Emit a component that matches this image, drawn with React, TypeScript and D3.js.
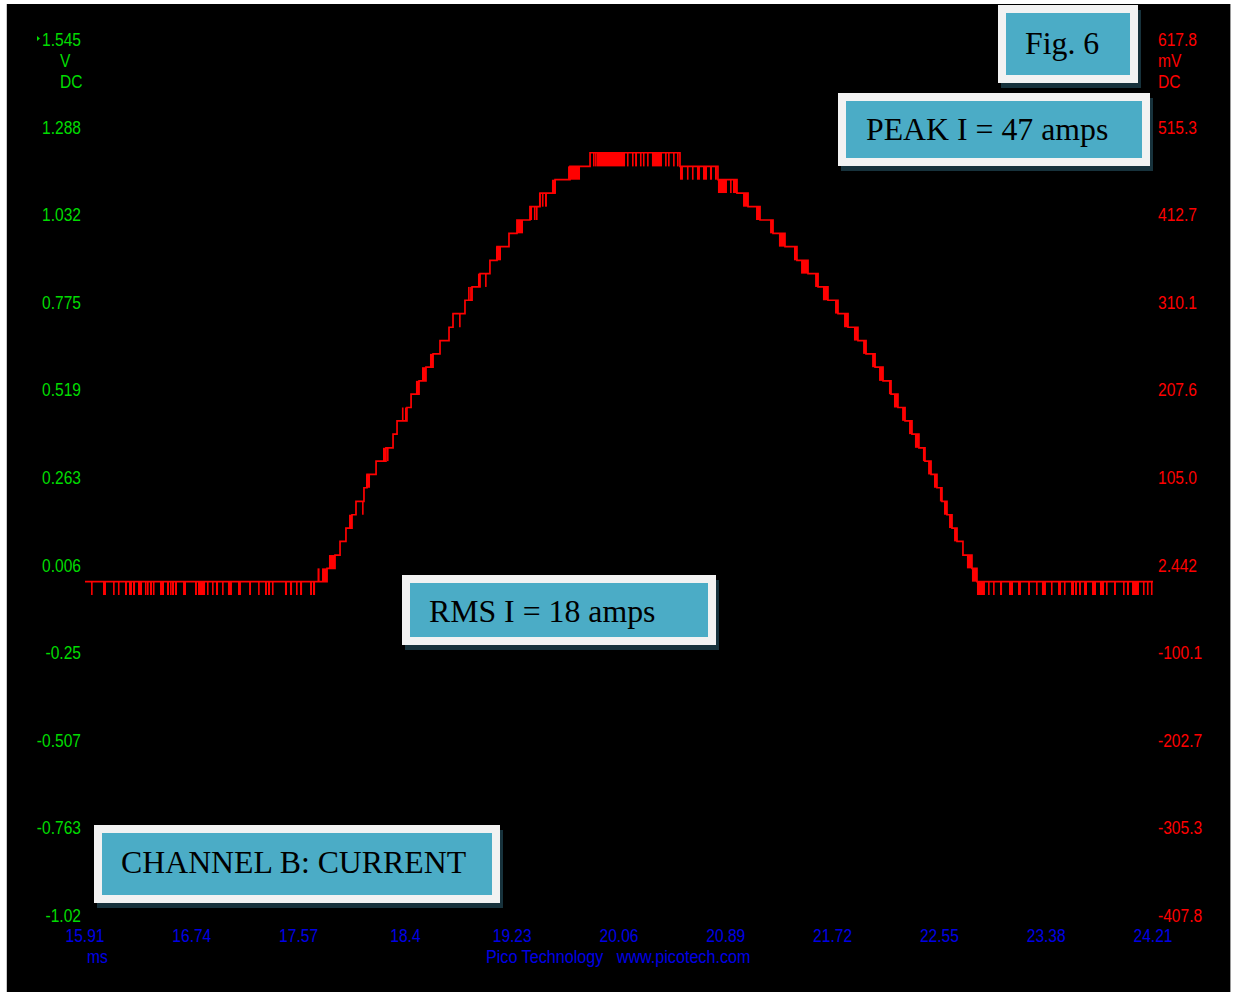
import React from "react";
import * as d3 from "d3";

// ---------- axis labels ----------
const leftTickLabels = ["1.545", "1.288", "1.032", "0.775", "0.519", "0.263", "0.006", "-0.25", "-0.507", "-0.763", "-1.02"];
const rightTickLabels = ["617.8", "515.3", "412.7", "310.1", "207.6", "105.0", "2.442", "-100.1", "-202.7", "-305.3", "-407.8"];
const timeTickLabels = ["15.91", "16.74", "17.57", "18.4", "19.23", "20.06", "20.89", "21.72", "22.55", "23.38", "24.21"];

const timeDomain: [number, number] = [15.91, 24.21]; // ms
const voltDomain: [number, number] = [1.545, -1.02]; // V (left scale)
const mvDomain: [number, number] = [617.8, -407.8]; // mV (right scale)

// ---------- waveform (ms, V) : quantised staircase, value holds until next point ----------
const baselineV = -0.044;
const dipV = -0.083;

const riseSteps: [number, number][] = [
  [15.91, -0.044],
  [17.791, -0.005], [17.853, 0.034], [17.892, 0.074], [17.938, 0.113], [17.985, 0.152],
  [18.016, 0.191], [18.078, 0.231], [18.102, 0.27], [18.172, 0.309], [18.249, 0.348],
  [18.304, 0.388], [18.335, 0.427], [18.412, 0.466], [18.444, 0.505], [18.506, 0.544],
  [18.56, 0.584], [18.615, 0.623], [18.669, 0.662], [18.739, 0.701], [18.77, 0.741],
  [18.863, 0.78], [18.918, 0.819], [18.98, 0.858], [19.057, 0.897], [19.112, 0.937],
  [19.205, 0.976], [19.267, 1.015], [19.368, 1.054], [19.446, 1.094], [19.563, 1.133],
  [19.679, 1.172], [19.835, 1.212],
];

const fallSteps: [number, number][] = [
  [20.534, 1.172], [20.829, 1.133], [20.977, 1.094], [21.063, 1.054], [21.156, 1.015],
  [21.257, 0.976], [21.35, 0.937], [21.443, 0.897], [21.529, 0.858], [21.607, 0.819],
  [21.684, 0.78], [21.762, 0.741], [21.84, 0.701], [21.917, 0.662], [21.98, 0.623],
  [22.05, 0.584], [22.112, 0.544], [22.174, 0.505], [22.228, 0.466], [22.283, 0.427],
  [22.337, 0.388], [22.391, 0.348], [22.438, 0.309], [22.485, 0.27], [22.531, 0.231],
  [22.57, 0.191], [22.609, 0.152], [22.648, 0.113], [22.687, 0.074], [22.733, 0.034],
  [22.803, -0.005], [22.842, -0.044], [24.21, -0.044],
];

// short dips of the baseline to the level below (start ms, end ms)
const baselineDips: [number, number][] = [
  [15.957, 15.964], [16.05, 16.073], [16.128, 16.135], [16.166, 16.174], [16.221, 16.236],
  [16.252, 16.275], [16.283, 16.299], [16.322, 16.353], [16.376, 16.384], [16.392, 16.4],
  [16.415, 16.431], [16.438, 16.446], [16.493, 16.524], [16.547, 16.563], [16.571, 16.578],
  [16.586, 16.602], [16.609, 16.625], [16.672, 16.695], [16.765, 16.78], [16.788, 16.843],
  [16.858, 16.866], [16.897, 16.905], [16.928, 16.944], [16.975, 16.982], [17.021, 17.052],
  [17.099, 17.122], [17.185, 17.2], [17.255, 17.262], [17.309, 17.324], [17.332, 17.348],
  [17.363, 17.371], [17.464, 17.48], [17.503, 17.519], [17.55, 17.558], [17.581, 17.597],
  [17.659, 17.674], [17.682, 17.698],
  [22.842, 22.904], [22.928, 22.935], [22.967, 22.974], [23.021, 23.037], [23.091, 23.122],
  [23.161, 23.184], [23.239, 23.254], [23.301, 23.308], [23.347, 23.378], [23.417, 23.425],
  [23.472, 23.495], [23.518, 23.526], [23.573, 23.596], [23.604, 23.619], [23.635, 23.65],
  [23.674, 23.697], [23.736, 23.767], [23.798, 23.829], [23.845, 23.852], [23.907, 23.922],
  [23.977, 23.985], [24.008, 24.023], [24.047, 24.101], [24.132, 24.14], [24.163, 24.171],
  [24.194, 24.202],
];

// toggling between two adjacent levels (start ms, end ms, level A V, level B V)
const levelToggles: [number, number, number, number][] = [
  // rising edge
  [17.717, 17.733, -0.044, -0.005], [17.752, 17.791, -0.044, -0.005], [17.806, 17.853, -0.005, 0.034],
  [17.962, 17.985, 0.113, 0.152],
  [18.063, 18.07, 0.152, 0.191], [18.094, 18.125, 0.231, 0.27], [18.226, 18.249, 0.309, 0.348],
  [18.257, 18.265, 0.309, 0.348], [18.373, 18.381, 0.427, 0.466], [18.397, 18.405, 0.427, 0.466],
  [18.482, 18.506, 0.505, 0.544], [18.529, 18.56, 0.544, 0.584], [18.591, 18.615, 0.584, 0.623],
  [18.817, 18.824, 0.701, 0.741],
  [18.887, 18.895, 0.78, 0.819], [18.903, 18.91, 0.78, 0.819], [18.964, 18.98, 0.819, 0.858],
  [19.019, 19.026, 0.819, 0.858], [19.104, 19.143, 0.897, 0.937], [19.267, 19.314, 0.976, 1.015],
  [19.368, 19.384, 1.015, 1.054], [19.399, 19.407, 1.015, 1.054], [19.415, 19.423, 1.015, 1.054],
  [19.438, 19.446, 1.054, 1.094], [19.461, 19.469, 1.054, 1.094], [19.485, 19.5, 1.054, 1.094],
  [19.539, 19.57, 1.094, 1.133], [19.664, 19.757, 1.133, 1.172],
  // plateau
  [19.858, 19.866, 1.172, 1.212], [19.874, 19.881, 1.172, 1.212], [19.889, 20.107, 1.172, 1.212],
  [20.122, 20.13, 1.172, 1.212], [20.161, 20.169, 1.172, 1.212], [20.185, 20.2, 1.172, 1.212],
  [20.223, 20.231, 1.172, 1.212], [20.246, 20.254, 1.172, 1.212], [20.278, 20.285, 1.172, 1.212],
  [20.316, 20.394, 1.172, 1.212], [20.418, 20.426, 1.172, 1.212], [20.441, 20.449, 1.172, 1.212],
  [20.48, 20.488, 1.172, 1.212], [20.511, 20.519, 1.172, 1.212],
  // falling edge
  [20.534, 20.557, 1.133, 1.172], [20.588, 20.596, 1.133, 1.172], [20.627, 20.635, 1.133, 1.172],
  [20.666, 20.689, 1.133, 1.172], [20.713, 20.744, 1.133, 1.172], [20.767, 20.783, 1.133, 1.172],
  [20.806, 20.821, 1.133, 1.172], [20.829, 20.899, 1.094, 1.133], [20.923, 20.931, 1.094, 1.133],
  [20.946, 20.977, 1.094, 1.133],
  [21.024, 21.063, 1.054, 1.094], [21.125, 21.156, 1.015, 1.054], [21.234, 21.257, 0.976, 1.015],
  [21.303, 21.35, 0.937, 0.976], [21.42, 21.443, 0.897, 0.937], [21.475, 21.529, 0.858, 0.897],
  [21.584, 21.607, 0.819, 0.858], [21.645, 21.684, 0.78, 0.819], [21.739, 21.762, 0.741, 0.78],
  [21.809, 21.84, 0.701, 0.741], [21.886, 21.917, 0.662, 0.701], [21.957, 21.98, 0.623, 0.662],
  [22.027, 22.05, 0.584, 0.623], [22.081, 22.112, 0.544, 0.584], [22.158, 22.174, 0.505, 0.544],
  [22.197, 22.228, 0.466, 0.505], [22.26, 22.283, 0.427, 0.466], [22.314, 22.337, 0.388, 0.427],
  [22.36, 22.391, 0.348, 0.388], [22.422, 22.438, 0.309, 0.348], [22.462, 22.485, 0.27, 0.309],
  [22.508, 22.531, 0.231, 0.27], [22.554, 22.57, 0.191, 0.231], [22.586, 22.609, 0.152, 0.191],
  [22.625, 22.648, 0.113, 0.152], [22.664, 22.687, 0.074, 0.113], [22.764, 22.803, -0.005, 0.034],
  [22.803, 22.842, -0.044, -0.005],
];

// ---------- annotations ----------
const notes = [
  { text: "Fig. 6", x0: 998, y0: 5, x1: 1138, y1: 83, tx: 1025, ty: 54 },
  { text: "PEAK I = 47 amps", x0: 838, y0: 93, x1: 1150, y1: 166, tx: 866, ty: 140 },
  { text: "RMS I = 18 amps", x0: 402, y0: 575, x1: 716, y1: 645, tx: 429, ty: 622 },
  { text: "CHANNEL B: CURRENT", x0: 94, y0: 825, x1: 500, y1: 903, tx: 121, ty: 873 },
];

const W = 1235;
const H = 992;
const GREEN = "#00dc00";
const RED = "#ff0000";
const BLUE = "#0000e6";
const LABEL_FONT = "'Liberation Sans', Arial, sans-serif";

export default function App() {
  const x = d3.scaleLinear().domain(timeDomain).range([85, 1153]);
  const y = d3.scaleLinear().domain(voltDomain).range([39, 915]);
  const yR = d3.scaleLinear().domain(mvDomain).range([39, 915]);

  const steps = [...riseSteps, ...fallSteps];
  const line = d3
    .line<[number, number]>()
    .x((d) => x(d[0]))
    .y((d) => y(d[1]))
    .curve(d3.curveStepAfter);

  const lab = (key: string, tx: number, ty: number, s: string, color: string, anchor: "start" | "end" | "middle", sx = 0.82) => (
    <text
      key={key}
      transform={`translate(${tx},${ty}) scale(${sx},1)`}
      fill={color}
      fontFamily={LABEL_FONT}
      fontSize={19}
      textAnchor={anchor}
      style={{ whiteSpace: "pre" }}
    >
      {s}
    </text>
  );

  return (
    <svg width={W} height={H} style={{ position: "absolute", left: 0, top: 0, display: "block" }}>
      <rect x={0} y={0} width={W} height={H} fill="#ffffff" />
      <rect x={7} y={4} width={1223} height={H - 4} fill="#000000" />
      <line x1={1230.5} y1={4} x2={1230.5} y2={H} stroke="#9a9a9a" strokeWidth={1} />
      <line x1={6.5} y1={4} x2={6.5} y2={H} stroke="#c8c8c8" strokeWidth={1} />

      {/* left axis (V) */}
      {leftTickLabels.map((s) => lab("l" + s, 81, y(+s) + 7, s, GREEN, "end"))}
      <polygon points={`37,36 40,38.5 37,41`} fill={GREEN} />
      {lab("lV", 60, 67, "V", GREEN, "start")}
      {lab("lDC", 60, 88, "DC", GREEN, "start")}

      {/* right axis (mV) */}
      {rightTickLabels.map((s) => lab("r" + s, 1158, yR(+s) + 7, s, RED, "start"))}
      {lab("rmV", 1158, 67, "mV", RED, "start")}
      {lab("rDC", 1158, 88, "DC", RED, "start")}

      {/* time axis */}
      {timeTickLabels.map((s) => lab("t" + s, x(+s), 942, s, BLUE, "middle"))}
      {lab("ms", 87, 963, "ms", BLUE, "start")}
      {lab("pico", 486, 963, "Pico Technology   www.picotech.com", BLUE, "start", 0.85)}

      {/* trace */}
      <g fill={RED}>
        {baselineDips.map(([t0, t1], i) => {
          const xa = x(t0);
          const w = Math.max(1.6, x(t1) - xa);
          return <rect key={"d" + i} x={xa} y={y(baselineV)} width={w} height={y(dipV) - y(baselineV)} />;
        })}
        {levelToggles.map(([t0, t1, a, b], i) => {
          const xa = x(t0);
          const w = Math.max(1.6, x(t1) - xa);
          const ya = Math.min(y(a), y(b));
          return <rect key={"g" + i} x={xa} y={ya} width={w} height={Math.abs(y(a) - y(b))} />;
        })}
      </g>
      <path d={line(steps) || ""} fill="none" stroke={RED} strokeWidth={1.7} />

      {/* annotation boxes */}
      {notes.map((n) => (
        <g key={n.text}>
          <rect x={n.x0 + 3} y={n.y0 + 5} width={n.x1 - n.x0} height={n.y1 - n.y0} fill="#17323c" />
          <rect x={n.x0} y={n.y0} width={n.x1 - n.x0} height={n.y1 - n.y0} fill="#f2f2f2" />
          <rect x={n.x0 + 8} y={n.y0 + 8} width={n.x1 - n.x0 - 16} height={n.y1 - n.y0 - 16} fill="#4bacc6" />
          <text x={n.tx} y={n.ty} fill="#000000" fontFamily="'Liberation Serif', 'Times New Roman', serif" fontSize={31.8}>
            {n.text}
          </text>
        </g>
      ))}
    </svg>
  );
}
